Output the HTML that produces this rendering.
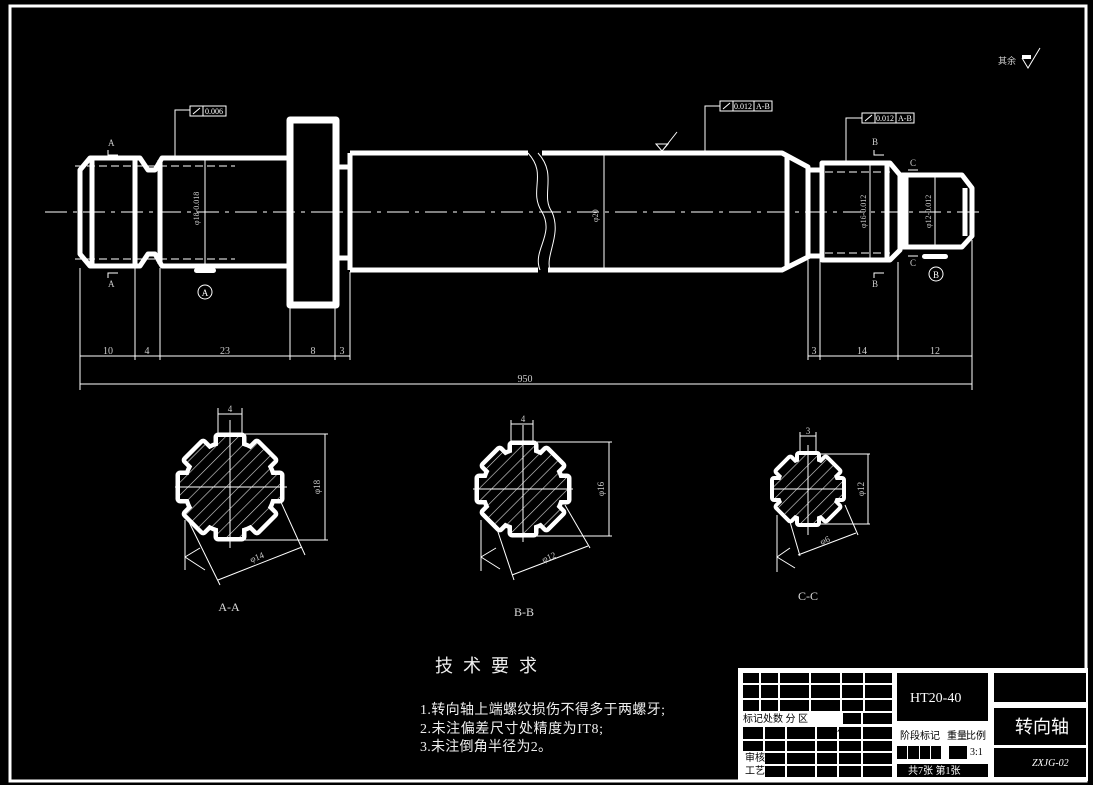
<!DOCTYPE html>
<html><head><meta charset="utf-8"><style>
html,body{margin:0;padding:0;background:#000;}
svg{display:block}
text{font-family:"Liberation Serif","Noto Sans CJK SC",serif;}
.cj{font-family:"Liberation Sans","Noto Sans CJK SC",sans-serif;}
</style></head><body>
<svg width="1093" height="785" viewBox="0 0 1093 785" xmlns="http://www.w3.org/2000/svg">
<defs>
<pattern id="h" width="9" height="9" patternUnits="userSpaceOnUse" patternTransform="rotate(45)">
<rect width="9" height="9" fill="#000"/>
<line x1="0" y1="0" x2="0" y2="9" stroke="#ddd" stroke-width="1.2"/>
</pattern>
<g id="sa"><circle r="43"/><rect x="-12" y="-50" width="24" height="50"/><rect x="-12" y="-50" width="24" height="50" transform="rotate(45)"/><rect x="-12" y="-50" width="24" height="50" transform="rotate(90)"/><rect x="-12" y="-50" width="24" height="50" transform="rotate(135)"/><rect x="-12" y="-50" width="24" height="50" transform="rotate(180)"/><rect x="-12" y="-50" width="24" height="50" transform="rotate(225)"/><rect x="-12" y="-50" width="24" height="50" transform="rotate(270)"/><rect x="-12" y="-50" width="24" height="50" transform="rotate(315)"/></g>
<g id="sb"><circle r="38"/><rect x="-11" y="-44" width="22" height="44"/><rect x="-11" y="-44" width="22" height="44" transform="rotate(45)"/><rect x="-11" y="-44" width="22" height="44" transform="rotate(90)"/><rect x="-11" y="-44" width="22" height="44" transform="rotate(135)"/><rect x="-11" y="-44" width="22" height="44" transform="rotate(180)"/><rect x="-11" y="-44" width="22" height="44" transform="rotate(225)"/><rect x="-11" y="-44" width="22" height="44" transform="rotate(270)"/><rect x="-11" y="-44" width="22" height="44" transform="rotate(315)"/></g>
<g id="sc"><circle r="29"/><rect x="-9" y="-34" width="18" height="34"/><rect x="-9" y="-34" width="18" height="34" transform="rotate(45)"/><rect x="-9" y="-34" width="18" height="34" transform="rotate(90)"/><rect x="-9" y="-34" width="18" height="34" transform="rotate(135)"/><rect x="-9" y="-34" width="18" height="34" transform="rotate(180)"/><rect x="-9" y="-34" width="18" height="34" transform="rotate(225)"/><rect x="-9" y="-34" width="18" height="34" transform="rotate(270)"/><rect x="-9" y="-34" width="18" height="34" transform="rotate(315)"/></g>
<mask id="ma" maskUnits="userSpaceOnUse" x="0" y="0" width="1093" height="785"><use href="#sa" x="230" y="487" fill="#fff"/></mask>
<mask id="mb" maskUnits="userSpaceOnUse" x="0" y="0" width="1093" height="785"><use href="#sb" x="523" y="489" fill="#fff"/></mask>
<mask id="mc" maskUnits="userSpaceOnUse" x="0" y="0" width="1093" height="785"><use href="#sc" x="808" y="489" fill="#fff"/></mask>
</defs>
<rect width="1093" height="785" fill="#000"/>
<rect x="10" y="6" width="1076" height="775" fill="none" stroke="#fff" stroke-width="3"/>

<line x1="45" y1="212" x2="985" y2="212" stroke="#fff" stroke-width="1" stroke-dasharray="22,6,4,6"/>

<g fill="none" stroke="#fff" stroke-width="5" stroke-linejoin="round">
<path d="M90,158 L140,158 L148,170 L155,170 L162,158 L290,158 L290,266 L162,266 L155,254 L148,254 L140,266 L90,266 L80,254 L80,170 Z"/>
<line x1="92" y1="160" x2="92" y2="264"/>
<line x1="135" y1="160" x2="135" y2="264"/>
<line x1="160" y1="160" x2="160" y2="264"/>
<rect x="290" y="120" width="46" height="185" stroke-width="7"/>
<path d="M336,167 L350,167 M336,258 L350,258"/>
<path d="M350,153 L528,153 M350,270 L538,270 M350,153 L350,270"/>
<path d="M542,153 L782,153 L808,167 L808,257 L782,270 L548,270"/>
<line x1="787" y1="155" x2="787" y2="268"/>
<path d="M808,170 L820,170 M808,256 L820,256"/>
<path d="M822,163 L890,163 L900,175 L900,250 L890,260 L822,260 Z"/>
<line x1="822" y1="163" x2="822" y2="260"/>
<line x1="887" y1="165" x2="887" y2="258"/>
<path d="M902,175 L962,175 L972,188 L972,236 L962,247 L902,247 Z"/>
<line x1="906" y1="177" x2="906" y2="245"/>
<line x1="965" y1="188" x2="965" y2="236"/>
</g>
<path d="M528,153 C548,175 528,190 542,212 C555,235 532,250 540,270" fill="none" stroke="#fff" stroke-width="1"/>
<path d="M538,153 C558,175 540,195 552,212 C562,235 545,255 550,270" fill="none" stroke="#fff" stroke-width="1"/>
<g stroke="#fff" stroke-width="1" fill="none">
<line x1="75" y1="166" x2="235" y2="166" stroke-dasharray="8,4"/>
<line x1="75" y1="259" x2="235" y2="259" stroke-dasharray="8,4"/>
<line x1="205" y1="160" x2="205" y2="265"/>
<line x1="604" y1="155" x2="604" y2="268"/>
<line x1="825" y1="172" x2="890" y2="172" stroke-dasharray="8,4"/>
<line x1="825" y1="253" x2="890" y2="253" stroke-dasharray="8,4"/>
<line x1="870" y1="165" x2="870" y2="258"/>
<line x1="935" y1="177" x2="935" y2="245"/>
<line x1="80" y1="268" x2="80" y2="390"/>
<line x1="135" y1="268" x2="135" y2="360"/>
<line x1="160" y1="268" x2="160" y2="360"/>
<line x1="290" y1="308" x2="290" y2="360"/>
<line x1="335" y1="308" x2="335" y2="360"/>
<line x1="350" y1="272" x2="350" y2="360"/>
<line x1="80" y1="356" x2="350" y2="356"/>
<line x1="808" y1="260" x2="808" y2="360"/>
<line x1="820" y1="260" x2="820" y2="360"/>
<line x1="898" y1="262" x2="898" y2="360"/>
<line x1="972" y1="240" x2="972" y2="390"/>
<line x1="808" y1="356" x2="972" y2="356"/>
<line x1="80" y1="384" x2="972" y2="384"/>
<polyline points="175,160 175,110 190,110"/>
<polyline points="705,151 705,106 720,106"/>
<polyline points="846,162 846,118 862,118"/>
</g>
<g font-size="10" fill="#ccc" text-anchor="middle">
<text x="108" y="354">10</text><text x="147" y="354">4</text><text x="225" y="354">23</text><text x="313" y="354">8</text><text x="342" y="354">3</text>
<text x="814" y="354">3</text><text x="862" y="354">14</text><text x="935" y="354">12</text>
<text x="525" y="382">950</text>
</g>
<g fill="none" stroke="#fff" stroke-width="1">
<rect x="190" y="106" width="36" height="10"/><line x1="203" y1="106" x2="203" y2="116"/>
<rect x="720" y="101" width="52" height="10"/><line x1="733" y1="101" x2="733" y2="111"/><line x1="754" y1="101" x2="754" y2="111"/>
<rect x="862" y="113" width="52" height="10"/><line x1="875" y1="113" x2="875" y2="123"/><line x1="896" y1="113" x2="896" y2="123"/>
<path d="M193,114 L200,108 M723,109 L730,103 M865,121 L872,115"/>
</g>
<g font-size="8" fill="#fff" class="cj">
<text x="205" y="114">0.006</text><text x="734" y="109">0.012</text><text x="756" y="109">A-B</text>
<text x="876" y="121">0.012</text><text x="898" y="121">A-B</text>
</g>
<rect x="194" y="268" width="22" height="5" rx="2.5" fill="#fff"/>
<circle cx="205" cy="292" r="7" fill="none" stroke="#fff"/><text x="205" y="296" font-size="9" fill="#fff" text-anchor="middle">A</text>
<rect x="922" y="254" width="26" height="5" rx="2.5" fill="#fff"/>
<circle cx="936" cy="274" r="7" fill="none" stroke="#fff"/><text x="936" y="278" font-size="9" fill="#fff" text-anchor="middle">B</text>
<g font-size="9" fill="#ccc"><text x="108" y="146">A</text><text x="108" y="287">A</text>
<text x="872" y="145">B</text><text x="872" y="287">B</text><text x="910" y="166">C</text><text x="910" y="266">C</text>
<text x="998" y="64" class="cj">其余</text></g>
<g stroke="#fff" fill="none"><path d="M108,150 V155 H118"/><path d="M108,278 V273 H118"/>
<path d="M874,150 V155 H884"/><path d="M874,278 V273 H884"/><path d="M908,170 H918"/><path d="M908,256 H918"/>
<path d="M1022,58 L1028,68 L1040,48"/><path d="M656,144 L662,151 L668,144 Z M662,151 L677,132"/></g>
<rect x="1022" y="55" width="9" height="4" fill="#fff"/>
<g font-size="8" fill="#ccc"><text transform="translate(199,225) rotate(-90)">φ18-0.018</text>
<text transform="translate(598,222) rotate(-90)">φ20</text>
<text transform="translate(866,228) rotate(-90)">φ16-0.012</text>
<text transform="translate(931,228) rotate(-90)">φ12-0.012</text></g>

<g stroke="#fff" stroke-width="1" fill="none">
<line x1="218" y1="408" x2="218" y2="436"/><line x1="242" y1="408" x2="242" y2="436"/><line x1="218" y1="414" x2="242" y2="414"/>
<line x1="245" y1="434" x2="328" y2="434"/><line x1="245" y1="540" x2="328" y2="540"/><line x1="325" y1="434" x2="325" y2="540"/>
<line x1="185" y1="520" x2="185" y2="570"/><line x1="188" y1="520" x2="220" y2="585"/><line x1="280" y1="500" x2="305" y2="555"/><line x1="218" y1="580" x2="302" y2="547"/>
<path d="M185,557 L200,548 M185,557 L205,570"/>
<line x1="511" y1="420" x2="511" y2="442"/><line x1="533" y1="420" x2="533" y2="442"/><line x1="511" y1="424" x2="533" y2="424"/>
<line x1="537" y1="442" x2="612" y2="442"/><line x1="537" y1="536" x2="612" y2="536"/><line x1="609" y1="442" x2="609" y2="536"/>
<line x1="481" y1="520" x2="481" y2="571"/><line x1="494" y1="520" x2="514" y2="580"/><line x1="565" y1="505" x2="590" y2="548"/><line x1="512" y1="575" x2="588" y2="546"/>
<path d="M481,557 L496,548 M481,557 L500,569"/>
<line x1="800" y1="432" x2="800" y2="455"/><line x1="816" y1="432" x2="816" y2="455"/><line x1="800" y1="436" x2="816" y2="436"/>
<line x1="818" y1="454" x2="870" y2="454"/><line x1="818" y1="524" x2="870" y2="524"/><line x1="868" y1="454" x2="868" y2="524"/>
<line x1="777" y1="515" x2="777" y2="572"/><line x1="788" y1="515" x2="800" y2="556"/><line x1="845" y1="505" x2="858" y2="535"/><line x1="798" y1="555" x2="856" y2="533"/>
<path d="M777,557 L790,548 M777,557 L795,568"/>
</g>
<use href="#sa" x="230" y="487" fill="none" stroke="#fff" stroke-width="9" stroke-linejoin="round"/>
<use href="#sa" x="230" y="487" fill="#000"/>
<rect x="170" y="430" width="120" height="120" fill="url(#h)" mask="url(#ma)"/>
<use href="#sb" x="523" y="489" fill="none" stroke="#fff" stroke-width="9" stroke-linejoin="round"/>
<use href="#sb" x="523" y="489" fill="#000"/>
<rect x="470" y="440" width="110" height="100" fill="url(#h)" mask="url(#mb)"/>
<use href="#sc" x="808" y="489" fill="none" stroke="#fff" stroke-width="8" stroke-linejoin="round"/>
<use href="#sc" x="808" y="489" fill="#000"/>
<rect x="770" y="450" width="80" height="80" fill="url(#h)" mask="url(#mc)"/>
<g stroke="#fff" stroke-width="1"><line x1="175" y1="487" x2="287" y2="487"/><line x1="230" y1="420" x2="230" y2="548"/>
<line x1="473" y1="489" x2="573" y2="489"/><line x1="523" y1="425" x2="523" y2="542"/>
<line x1="770" y1="489" x2="846" y2="489"/><line x1="808" y1="445" x2="808" y2="535"/></g>
<g font-size="9" fill="#ccc" text-anchor="middle">
<text x="230" y="412">4</text><text x="523" y="422">4</text><text x="808" y="434">3</text>
<text transform="translate(320,487) rotate(-90)">φ18</text><text transform="translate(604,489) rotate(-90)">φ16</text><text transform="translate(864,489) rotate(-90)">φ12</text>
<text transform="translate(258,560) rotate(-22)">φ14</text><text transform="translate(550,560) rotate(-22)">φ12</text><text transform="translate(826,543) rotate(-22)">φ6</text>
</g>
<g font-size="12" fill="#ddd" text-anchor="middle"><text x="229" y="611">A-A</text><text x="524" y="616">B-B</text><text x="808" y="600">C-C</text></g>

<text x="435" y="672" font-size="18" fill="#eee" class="cj" letter-spacing="10">技术要求</text>
<g font-size="14" fill="#eee" class="cj">
<text x="420" y="714" textLength="245">1.转向轴上端螺纹损伤不得多于两螺牙;</text>
<text x="420" y="733" textLength="183">2.未注偏差尺寸处精度为IT8;</text>
<text x="420" y="751" textLength="132">3.未注倒角半径为2。</text>
</g>

<rect x="738" y="668" width="350" height="113" fill="#fff"/>
<g fill="#000">
<rect x="743" y="673" width="16" height="10"/><rect x="761" y="673" width="17" height="10"/><rect x="780" y="673" width="29" height="10"/><rect x="811" y="673" width="29" height="10"/><rect x="842" y="673" width="21" height="10"/><rect x="865" y="673" width="27" height="10"/>
<rect x="743" y="685" width="16" height="13"/><rect x="761" y="685" width="17" height="13"/><rect x="780" y="685" width="29" height="13"/><rect x="811" y="685" width="29" height="13"/><rect x="842" y="685" width="21" height="13"/><rect x="865" y="685" width="27" height="13"/>
<rect x="743" y="700" width="16" height="11"/><rect x="761" y="700" width="17" height="11"/><rect x="780" y="700" width="29" height="11"/><rect x="811" y="700" width="29" height="11"/><rect x="842" y="700" width="21" height="11"/><rect x="865" y="700" width="27" height="11"/>
<rect x="743" y="727" width="20" height="12"/><rect x="765" y="727" width="20" height="12"/><rect x="787" y="727" width="28" height="12"/><rect x="817" y="727" width="20" height="12"/><rect x="839" y="727" width="22" height="12"/><rect x="863" y="727" width="29" height="12"/>
<rect x="743" y="741" width="20" height="10"/><rect x="765" y="741" width="20" height="10"/><rect x="787" y="741" width="28" height="10"/><rect x="817" y="741" width="20" height="10"/><rect x="839" y="741" width="22" height="10"/><rect x="863" y="741" width="29" height="10"/>
<rect x="765" y="753" width="20" height="11"/><rect x="787" y="753" width="28" height="11"/><rect x="817" y="753" width="20" height="11"/><rect x="839" y="753" width="22" height="11"/><rect x="863" y="753" width="29" height="11"/>
<rect x="765" y="766" width="20" height="11"/><rect x="787" y="766" width="28" height="11"/><rect x="817" y="766" width="20" height="11"/><rect x="839" y="766" width="22" height="11"/><rect x="863" y="766" width="29" height="11"/>
<rect x="863" y="713" width="29" height="11"/><rect x="843" y="713" width="18" height="11"/>
<rect x="897" y="673" width="91" height="48"/>
<rect x="897" y="746" width="10" height="13"/><rect x="908" y="746" width="11" height="13"/><rect x="920" y="746" width="10" height="13"/><rect x="931" y="746" width="10" height="13"/>
<rect x="949" y="746" width="18" height="13"/>
<rect x="897" y="764" width="91" height="13"/>
<rect x="994" y="673" width="92" height="29"/>
<rect x="994" y="708" width="92" height="37"/>
<rect x="994" y="748" width="92" height="29"/>
</g>
<g font-size="10" fill="#000" class="cj">
<text x="743" y="722">标记处数 分  区 </text><text x="743" y="736">设计</text><text x="817" y="736">标准化</text>
<text x="745" y="761">审核</text><text x="745" y="774">工艺</text>
<text x="900" y="739">阶段标记</text><text x="947" y="739">重量</text><text x="966" y="739">比例</text>
<text x="970" y="755">3:1</text>
</g>
<g fill="#fff" class="cj"><text x="910" y="702" font-size="14">HT20-40</text>
<text x="1015" y="733" font-size="18">转向轴</text>
<text x="1032" y="766" font-size="10" font-style="italic">ZXJG-02</text>
<text x="908" y="774" font-size="10">共7张  第1张</text></g>
</svg>
</body></html>
